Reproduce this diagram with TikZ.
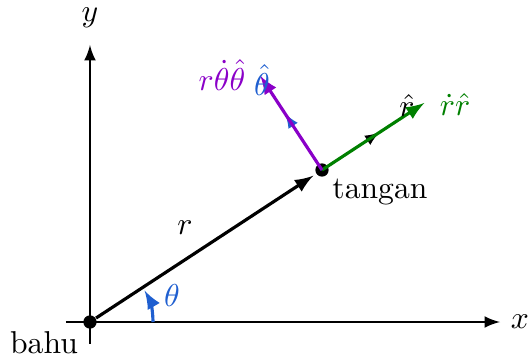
\documentclass[tikz,border=0pt]{standalone}
\usepackage{amsmath}
\usepackage{amssymb}
\usepackage{xcolor}
\usetikzlibrary{arrows}
\definecolor{sudut}{HTML}{1F5FD0}
\definecolor{radial}{HTML}{008000}
\definecolor{tangensial}{HTML}{8A00C8}

\begin{document}
\begin{tikzpicture}[
          axis/.style={-latex, line width=0.7pt},
          vec/.style={-latex, line width=1pt},
          unit/.style={-latex, line width=0.6pt},
          dot/.style={circle, fill, inner sep=0pt, minimum size=4.2pt}
        ]
          \useasboundingbox (-1,-0.378) rectangle (4.867,3.578);
          % Sumbu
          \coordinate (xa) at (-0.267,0);
          \coordinate (xb) at (4.556,0);
          \coordinate (ya) at (0,-0.244);
          \coordinate (yb) at (0,3.078);
          \draw[axis] (xa) -- (xb);
          \draw[axis] (ya) -- (yb);
          \node (xl) at (4.778,0) {$x$};
          \node (yl) at (0,3.378) {$y$};

          % Lengan
          \node[dot] (bahu) at (0,0) {};
          \node[dot] (tangan) at (2.578,1.689) {};
          \draw[vec, shorten >=1pt] (bahu) -- (tangan);
          \node (bahul) at (-0.511,-0.233) {bahu};
          \node (tanganl) at (3.222,1.444) {tangan};
          \node (rl) at (1.056,1.044) {$r$};

          % Sudut
          \coordinate (a0) at (0.7,0);
          \draw[sudut, -latex, line width=1pt] (a0) arc (0:30:0.7);
          \node[sudut] (thl) at (0.911,0.289) {$\theta$};

          % Vektor satuan
          \coordinate (rhat) at (3.217,2.108);
          \coordinate (thhat) at (2.168,2.316);
          \draw[unit] (tangan.center) -- (rhat);
          \draw[unit, sudut] (tangan.center) -- (thhat);

          % Kecepatan
          \coordinate (vr) at (3.716,2.434);
          \coordinate (vt) at (1.893,2.735);
          \draw[vec, radial] (tangan.center) -- (vr);
          \draw[vec, tangensial] (tangan.center) -- (vt);
          \node (rhatl) at (3.522,2.411) {$\hat{r}$};
          \node[radial] (vrl) at (4.056,2.422) {$\dot{r}\hat{r}$};
          \node[tangensial] (vtl) at (1.467,2.744) {$r\dot{\theta}\hat{\theta}$};
          \node[sudut] (thhatl) at (1.911,2.689) {$\hat{\theta}$};
        \end{tikzpicture}
\end{document}
